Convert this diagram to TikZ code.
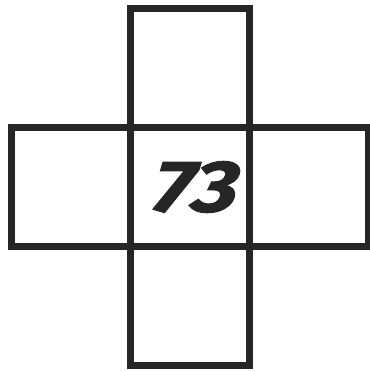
\documentclass[tikz,border=0pt]{standalone}
\usepackage{fontspec}
\setmainfont{Fira Sans}
\newfontfamily\numfont{Fira Sans}[FakeSlant=0.3, FakeStretch=1.2, FakeBold=1.5]
\usepackage{tikz}
\usetikzlibrary{positioning}

\begin{document}
\begin{tikzpicture}[
  every node/.style={font=\normalsize},
  cell/.style={rectangle, draw=black!85, line width=5pt, outer sep=0pt, inner sep=0pt, minimum width=3.216cm, minimum height=3.216cm},
  numtext/.style={font=\numfont\fontsize{56}{60}\selectfont\bfseries, text=black!85},
  node distance=0pt
]
\useasboundingbox (-5.135,-4.973) rectangle (4.865,5.054);

%% cross of five cells, number in the middle one
\node[cell, numtext] (mid) at (0,0) {\raisebox{-0.14cm}{73}};
\node[cell, above=of mid] (top) {};
\node[cell, below=of mid] (bot) {};
\node[cell, left=of mid] (lft) {};
\node[cell, right=of mid] (rgt) {};
\end{tikzpicture}
\end{document}
